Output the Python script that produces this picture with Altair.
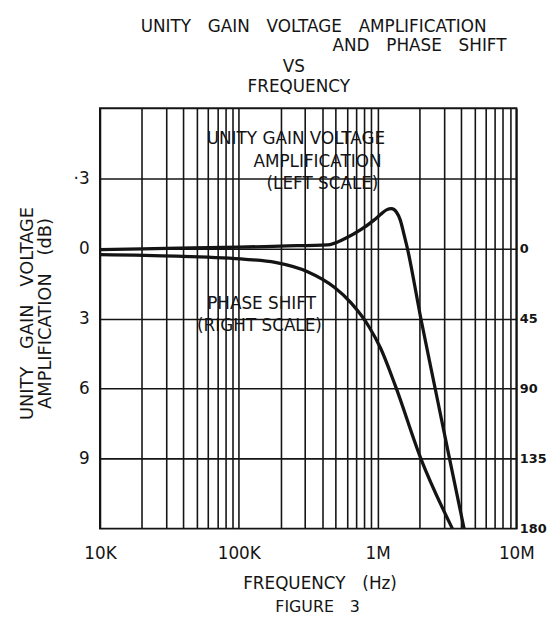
import altair as alt
import pandas as pd

# ---- data ----
gain_freq = [1e4, 3e4, 1e5, 2e5, 4.35e5, 5.74e5, 7.57e5, 9.37e5, 1.05e6, 1.16e6,
             1.26e6, 1.37e6, 1.46e6, 1.55e6, 1.64e6, 2.05e6, 2.6e6, 3.3e6, 4.2e6]
gain_db = [-0.05, 0.0, 0.05, 0.1, 0.15, 0.4, 0.8, 1.2, 1.45, 1.65,
           1.7, 1.55, 1.2, 0.6, 0.0, -3.0, -6.0, -9.0, -12.0]

phase_freq = [1e4, 3.57e4, 1.12e5, 1.83e5, 3.13e5, 4.88e5, 6.44e5, 8.63e5,
              1.05e6, 1.34e6, 2.05e6, 3.46e6]
phase_deg = [4, 5, 7, 9, 15, 25, 35, 50, 64, 88, 135, 180]

x_grid = [1e4, 2e4, 3e4, 4e4, 5e4, 6e4, 7e4, 8e4, 9e4,
          1e5, 2e5, 3e5, 4e5, 5e5, 6e5, 7e5, 8e5, 9e5,
          1e6, 2e6, 3e6, 4e6, 5e6, 6e6, 7e6, 8e6, 9e6, 1e7]
db_ticks = [3, 0, -3, -6, -9]
phase_ticks = [0, 45, 90, 135, 180]

note_text = ["UNITY GAIN VOLTAGE", "AMPLIFICATION", "(LEFT SCALE)",
             "PHASE SHIFT", "(RIGHT SCALE)"]
note_freq = [2.58e5, 3.69e5, 4.01e5, 1.46e5, 1.41e5]
note_db = [4.69, 3.71, 2.74, -2.39, -3.32]

GAP = "\u2003"
title_lines = [GAP.join(["UNITY", "GAIN", "VOLTAGE", "AMPLIFICATION"]),
               GAP.join(["AND", "PHASE", "SHIFT"]), "VS", "FREQUENCY"]

FONT = "DejaVu Sans"
INK = "#141414"
W, H = 421, 425

gain_df = pd.DataFrame({"freq": gain_freq, "db": gain_db})
phase_df = pd.DataFrame({"freq": phase_freq, "deg": phase_deg})
note_df = pd.DataFrame({"freq": note_freq, "db": note_db, "text": note_text})

xscale = alt.Scale(type="log", domain=[1e4, 1e7], nice=False)
yscale = alt.Scale(domain=[-12, 6], nice=False, zero=False)
pscale = alt.Scale(domain=[-90, 180], nice=False, zero=False, reverse=True)

x_label_expr = ("datum.value == 10000 ? '10K' : datum.value == 100000 ? '100K' : "
                "datum.value == 1000000 ? '1M' : datum.value == 10000000 ? '10M' : ''")

x_axis = alt.Axis(values=x_grid, labelExpr=x_label_expr, grid=True, ticks=False,
                  domain=False, labelPadding=17, labelFontSize=17,
                  labelOverlap=False, labelFlush=False,
                  title="FREQUENCY\u2003(Hz)", titleFontSize=17,
                  titleFontWeight="normal",
                  titleX=222, titleY=56, titleBaseline="middle")

X = alt.X("freq:Q", scale=xscale, axis=x_axis)

gain = alt.Chart(gain_df).mark_line(color=INK, strokeWidth=3.3, interpolate="monotone").encode(
    x=X,
    y=alt.Y("db:Q", scale=yscale,
            axis=alt.Axis(values=db_ticks,
                          labelExpr="datum.value == 3 ? '\u00b73' : format(abs(datum.value), 'd')",
                          grid=True, ticks=False, domain=False, labelPadding=11,
                          labelFontSize=17,
                          title=[GAP.join(["UNITY", "GAIN", "VOLTAGE"]),
                                 GAP.join(["AMPLIFICATION", "(dB)"])],
                          titleFontSize=18, titleFontWeight="normal", titleAngle=-90,
                          titleX=-73, titleY=207, titleAlign="center",
                          titleBaseline="middle", titleLineHeight=18)),
)

phase = alt.Chart(phase_df).mark_line(color=INK, strokeWidth=3.3, interpolate="monotone").encode(
    x=X,
    y=alt.Y("deg:Q", scale=pscale,
            axis=alt.Axis(orient="right", values=phase_ticks, grid=False, ticks=False,
                          domain=False, labelPadding=3, labelFontSize=13,
                          labelFontWeight="bold", title=None)),
)

notes = alt.Chart(note_df).mark_text(font=FONT, fontSize=17, color=INK, align="center",
                                     baseline="middle").encode(
    x=X,
    y=alt.Y("db:Q", scale=yscale, axis=None),
    text="text:N",
)


def text_line(txt, px, py, align, size):
    return alt.Chart(pd.DataFrame({"t": [txt]})).mark_text(
        font=FONT, fontSize=size, color=INK, align=align, baseline="middle"
    ).encode(x=alt.value(px), y=alt.value(py), text="t:N")


t1 = text_line(title_lines[0], 216, -82, "center", 17)
t2 = text_line(title_lines[1], 411, -63, "right", 17)
t3 = text_line(title_lines[2], 196, -42, "center", 17)
t4 = text_line(title_lines[3], 201, -21, "center", 17)
fig = text_line("FIGURE\u20033", 220, 504, "center", 16)

chart = alt.layer(gain, phase, notes, t1, t2, t3, t4, fig).resolve_scale(
    y="independent"
).properties(
    width=W, height=H,
    autosize=alt.AutoSizeParams(type="none"),
    padding={"left": 93, "top": 98, "right": 33, "bottom": 88},
).configure_view(
    stroke=INK, strokeWidth=2
).configure_axis(
    labelFont=FONT, titleFont=FONT, labelColor=INK, titleColor=INK,
    gridColor=INK, gridWidth=1.6, gridOpacity=1,
)

chart.save("out.html", embed_options={"renderer": "svg", "actions": False})
